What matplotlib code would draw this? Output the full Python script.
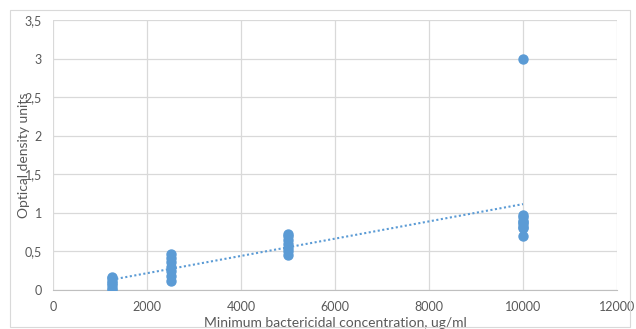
import numpy as np
import matplotlib.pyplot as plt
from matplotlib.patches import Rectangle
from matplotlib.ticker import FuncFormatter

# measured points (concentration, optical density)
conc_1250 = [1250] * 7
od_1250 = [0.0, 0.03, 0.06, 0.09, 0.12, 0.15, 0.17]
conc_2500 = [2500] * 7
od_2500 = [0.12, 0.18, 0.24, 0.30, 0.36, 0.42, 0.47]
conc_5000 = [5000] * 7
od_5000 = [0.45, 0.50, 0.55, 0.60, 0.65, 0.70, 0.72]
conc_10000 = [10000] * 9
od_10000 = [0.70, 0.80, 0.82, 0.85, 0.88, 0.90, 0.95, 0.97, 3.0]

x = np.array(conc_1250 + conc_2500 + conc_5000 + conc_10000, dtype=float)
y = np.array(od_1250 + od_2500 + od_5000 + od_10000)

plt.rcParams['font.family'] = ['Lato', 'DejaVu Sans']
fig = plt.figure(figsize=(6.36, 3.29), dpi=100)
fig.patches.append(Rectangle((10/636, 2/329), 620/636, 317/329, transform=fig.transFigure,
                             fill=False, edgecolor='#d9d9d9', linewidth=0.8))
ax = fig.add_axes([53/636, 39/329, 564/636, 270/329])

ax.scatter(x, y, s=42, color='#5b9bd5', zorder=3)

# linear trendline
k, b = np.polyfit(x, y, 1)
xt = np.array([1250, 10000])
ax.plot(xt, k*xt + b, linestyle=(0, (1, 1.2)), color='#5b9bd5', linewidth=1.5, zorder=2)

ax.set_xlim(0, 12000)
ax.set_ylim(0, 3.5)
ax.set_xticks(np.arange(0, 12001, 2000))
ax.set_yticks(np.arange(0, 3.51, 0.5))
ax.yaxis.set_major_formatter(FuncFormatter(lambda v, p: ('%g' % v).replace('.', ',')))
ax.grid(True, color='#d9d9d9', linewidth=0.9)
ax.set_axisbelow(True)
for s in ['top', 'right', 'left']:
    ax.spines[s].set_visible(False)
ax.spines['bottom'].set_color('#bfbfbf')
ax.tick_params(length=0, labelsize=9, labelcolor='#595959', pad=8)
ax.set_xlabel('Minimum bactericidal concentration, ug/ml', fontsize=10, color='#595959', labelpad=3)
ax.set_ylabel('Optical density units', fontsize=10, color='#595959', labelpad=-4)

fig.savefig('out.png', dpi=100)
